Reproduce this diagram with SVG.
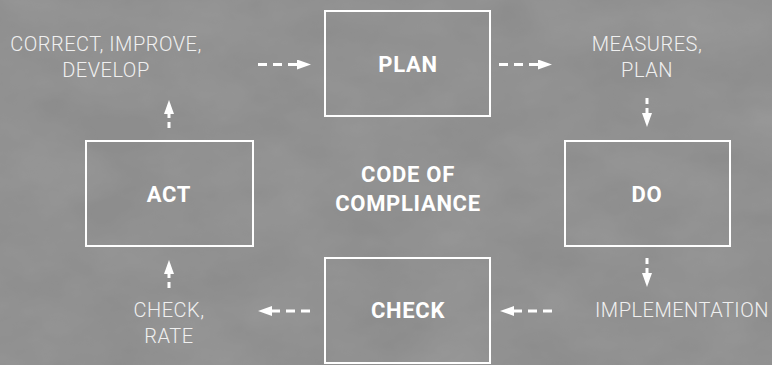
<svg xmlns="http://www.w3.org/2000/svg" width="772" height="365" viewBox="0 0 772 365">
  <defs>
    <filter id="grain" x="0" y="0" width="100%" height="100%">
      <feTurbulence type="fractalNoise" baseFrequency="0.012 0.02" numOctaves="4" seed="7" result="n"/>
      <feColorMatrix type="matrix" values="0 0 0 0 0.5  0 0 0 0 0.5  0 0 0 0 0.5  0.35 0.35 0.35 0 -0.35" in="n"/>
    </filter>
    <marker id="ah" markerUnits="userSpaceOnUse" viewBox="0 0 14 10" markerWidth="14" markerHeight="10" refX="0" refY="5" orient="auto">
      <path d="M0,0 L14,5 L0,10 Z" fill="#ffffff"/>
    </marker>
    <style>
      .box { fill: none; stroke: #ffffff; stroke-width: 2; }
      .title { font-family: Roboto, "Liberation Sans", sans-serif; font-weight: bold; font-size: 22px; letter-spacing: 0.7px; fill: #ffffff; text-anchor: middle; }
      .lbl { font-family: Roboto, "Liberation Sans", sans-serif; font-weight: 300; font-size: 20px; letter-spacing: 0.5px; fill: #f0f0f0; text-anchor: middle; }
      .h { fill: none; stroke: #ffffff; stroke-width: 3; stroke-dasharray: 9 6; marker-end: url(#ah); }
      .v { fill: none; stroke: #ffffff; stroke-width: 3; stroke-dasharray: 6 4; marker-end: url(#ah); }
    </style>
  </defs>
  <rect x="0" y="0" width="772" height="365" fill="#8d8d8d"/>
  <rect x="0" y="0" width="772" height="365" filter="url(#grain)" opacity="0.5"/>

  <g id="plan">
    <rect class="box" x="325" y="11" width="165" height="105"/>
    <text class="title" x="408" y="72">PLAN</text>
  </g>
  <g id="do">
    <rect class="box" x="565" y="141" width="165" height="105"/>
    <text class="title" x="647" y="202">DO</text>
  </g>
  <g id="check">
    <rect class="box" x="325" y="258" width="165" height="105"/>
    <text class="title" x="408" y="318">CHECK</text>
  </g>
  <g id="act">
    <rect class="box" x="86" y="141" width="167" height="105"/>
    <text class="title" x="169" y="202">ACT</text>
  </g>
  <g id="center">
    <text class="title" x="408" y="182">CODE OF</text>
    <text class="title" x="408" y="211">COMPLIANCE</text>
  </g>

  <g id="label-correct">
    <text class="lbl" x="106" y="51">CORRECT, IMPROVE,</text>
    <text class="lbl" x="106" y="77">DEVELOP</text>
  </g>
  <g id="label-measures">
    <text class="lbl" x="647" y="51">MEASURES,</text>
    <text class="lbl" x="647" y="77">PLAN</text>
  </g>
  <g id="label-implementation">
    <text class="lbl" x="682" y="317">IMPLEMENTATION</text>
  </g>
  <g id="label-checkrate">
    <text class="lbl" x="169" y="317">CHECK,</text>
    <text class="lbl" x="169" y="343">RATE</text>
  </g>

  <g id="connectors">
    <path class="h" d="M258,64.5 L297,64.5"/>
    <path class="h" d="M499,64.5 L538,64.5"/>
    <path class="v" d="M647,98 L647,113"/>
    <path class="v" d="M647,258 L647,273"/>
    <path class="h" d="M552,311 L514,311"/>
    <path class="h" d="M310,311 L272,311"/>
    <path class="v" d="M169,288 L169,274"/>
    <path class="v" d="M169,128 L169,114"/>
  </g>
</svg>
